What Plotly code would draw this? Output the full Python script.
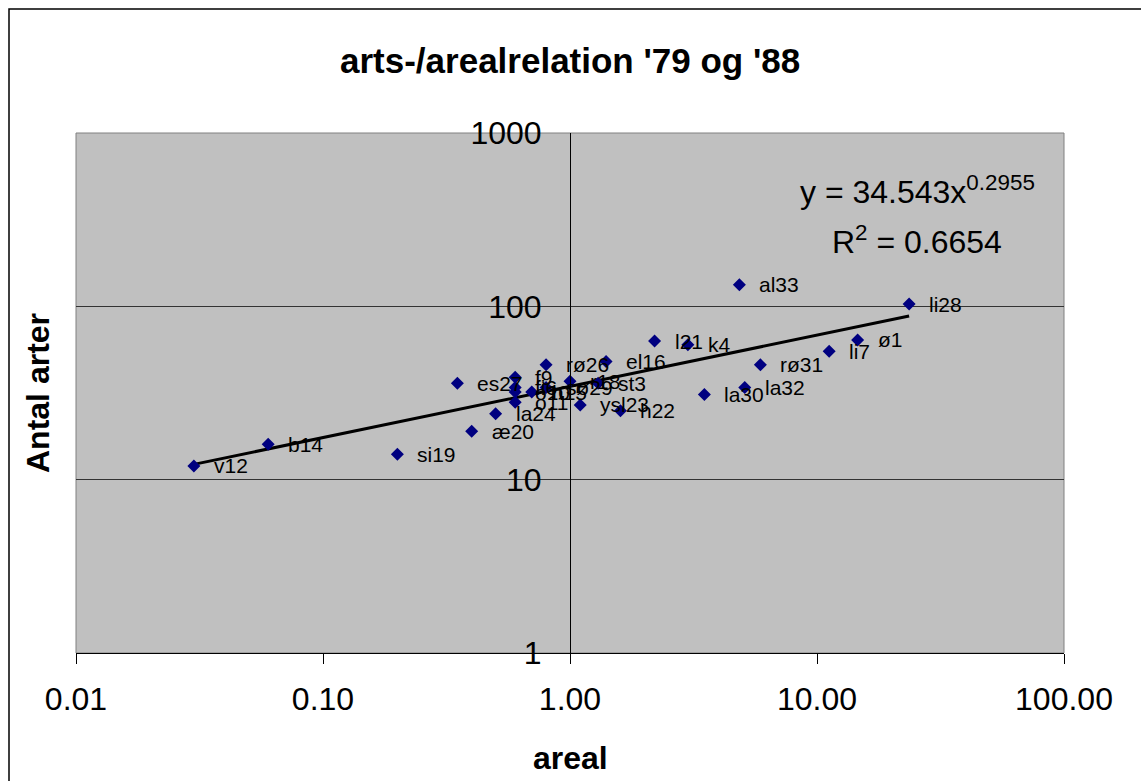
import numpy as np
import plotly.graph_objects as go

# Lake / site labels with area (areal) and species count (antal arter)
names = ["v12", "b14", "si19", "æ20", "la24", "es27", "f9", "fi6", "o10", "o11",
         "h15", "rø26", "sø29", "r18", "ysl23", "st3", "el16", "h22", "l21", "k4",
         "la30", "al33", "la32", "rø31", "li7", "ø1", "li28"]
areal = [0.03, 0.06, 0.20, 0.40, 0.50, 0.35, 0.60, 0.60, 0.60, 0.60,
         0.70, 0.80, 0.80, 1.00, 1.10, 1.30, 1.40, 1.60, 2.20, 3.00,
         3.50, 4.85, 5.10, 5.90, 11.2, 14.6, 23.6]
arter = [12, 16, 14, 19, 24, 36, 39, 34, 32, 28,
         32, 46, 34, 37, 27, 36, 48, 25, 63, 60,
         31, 133, 34, 46, 55, 64, 103]

# Power trendline y = a * x^b
trend_a = 34.543
trend_b = 0.2955
trend_r2 = 0.6654

x_ticks = [0.01, 0.1, 1, 10, 100]
x_ticktext = ["0.01", "0.10", "1.00", "10.00", "100.00"]
y_ticks = [1, 10, 100, 1000]
y_ticktext = ["1", "10", "100", "1000"]

FONT = "Liberation Sans, Arial, sans-serif"
W, H = 1141, 781
L, R, T, B = 76, 1064, 133, 653  # plot area in pixels


def px(xp):
    return (xp - L) / (R - L)


def py(yp):
    return (B - yp) / (B - T)


fig = go.Figure()

tx = np.geomspace(min(areal), max(areal), 60)
fig.add_trace(go.Scatter(
    x=tx, y=trend_a * tx ** trend_b, mode="lines",
    line=dict(color="black", width=3), hoverinfo="skip", showlegend=False,
))

fig.add_trace(go.Scatter(
    x=areal, y=arter, mode="markers",
    marker=dict(symbol="diamond", size=10, color="#000080"),
    showlegend=False,
))

# data labels to the right of each point
point_labels = [
    dict(text=n, x=np.log10(a), y=np.log10(v), xref="x", yref="y",
         xanchor="left", yanchor="middle", xshift=18, showarrow=False,
         font=dict(family=FONT, size=21, color="black"))
    for n, a, v in zip(names, areal, arter)
]

fig.update_layout(
    width=W, height=H,
    margin=dict(l=L, r=W - R, t=T, b=H - B, pad=0),
    paper_bgcolor="white", plot_bgcolor="#C0C0C0",
    font=dict(family=FONT, color="black"),
    xaxis=dict(
        type="log", range=[-2, 2], domain=[0, 1],
        showgrid=False, zeroline=False,
        showline=True, linecolor="black", linewidth=1,
        ticks="outside", ticklen=10, tickcolor="black", tickwidth=1,
        tickvals=x_ticks, ticktext=x_ticktext, ticklabelstandoff=8,
        tickfont=dict(family=FONT, size=32, color="black"),
    ),
    yaxis=dict(
        type="log", range=[0, 3], anchor="free", position=0.5,
        showgrid=True, gridcolor="#333333", gridwidth=1, zeroline=False,
        showline=True, linecolor="black", linewidth=1,
        ticks="", tickvals=y_ticks, ticktext=y_ticktext,
        ticklabelstandoff=22,
        tickfont=dict(family=FONT, size=32, color="black"),
    ),
    shapes=[
        # plot area frame
        dict(type="rect", xref="paper", yref="paper", x0=0, x1=1, y0=0, y1=1,
             line=dict(color="#808080", width=1), layer="below"),
        # chart area frame
        dict(type="rect", xref="paper", yref="paper",
             x0=px(9), x1=px(1160), y0=py(9), y1=py(800),
             line=dict(color="black", width=1.5)),
    ],
    annotations=point_labels + [
        dict(text="arts-/arealrelation '79 og '88", xref="paper", yref="paper",
             x=0.5, y=py(60), xanchor="center", yanchor="middle", showarrow=False,
             font=dict(family=FONT, size=35, color="black", weight="bold")),
        dict(text="Antal arter", xref="paper", yref="paper", textangle=-90,
             x=px(38), y=py(393), xanchor="center", yanchor="middle", showarrow=False,
             font=dict(family=FONT, size=32, color="black", weight="bold")),
        dict(text="areal", xref="paper", yref="paper",
             x=px(570), y=py(758), xanchor="center", yanchor="middle", showarrow=False,
             font=dict(family=FONT, size=32, color="black", weight="bold")),
        dict(text=f"y = {trend_a}x<sup>{trend_b}</sup>", xref="paper", yref="paper",
             x=px(798), y=py(190), xanchor="left", yanchor="middle", showarrow=False,
             font=dict(family=FONT, size=32, color="black")),
        dict(text=f"R<sup>2</sup> = {trend_r2}", xref="paper", yref="paper",
             x=px(830), y=py(240), xanchor="left", yanchor="middle", showarrow=False,
             font=dict(family=FONT, size=32, color="black")),
    ],
)

fig.write_html("out.html")
